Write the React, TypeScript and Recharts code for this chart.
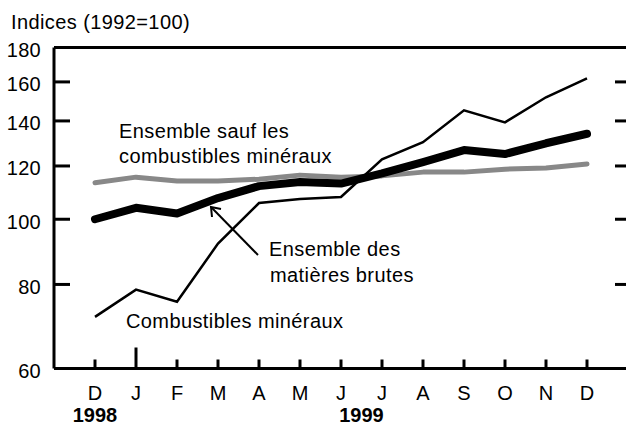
import React from 'react';
import { LineChart, Line, XAxis, YAxis, ReferenceLine, Customized } from 'recharts';

const months = ['D', 'J', 'F', 'M', 'A', 'M', 'J', 'J', 'A', 'S', 'O', 'N', 'D'];
const yearLabels = [
  { at: 0, label: '1998' },
  { at: 6.5, label: '1999' },
];
const ensembleMatieres = [100, 104, 102, 107.5, 112, 113.6, 113, 117, 121.6, 126.7, 125, 129.7, 134];
const saufCombustibles = [113.3, 115.5, 114, 114, 114.7, 116.3, 115.5, 116, 117.5, 117.5, 118.7, 119.2, 120.8];
const combustibles = [71.6, 78.6, 75.4, 92, 105.7, 107.2, 107.9, 122.8, 130.2, 145.2, 139.3, 151.8, 162];
const yTicks = [60, 80, 100, 120, 140, 160, 180];

const data = months.map((m, i) => ({
  idx: i,
  month: m,
  ensemble: ensembleMatieres[i],
  sauf: saufCombustibles[i],
  comb: combustibles[i],
}));

const W = 626;
const H = 427;
const M_LEFT = 54;
const M_TOP = 47.5;
const M_RIGHT = -2;
const X_AXIS_H = 30;
const M_BOTTOM = H - 368.5 - X_AXIS_H;
const PLOT_LEFT = M_LEFT;
const PLOT_RIGHT = W - M_RIGHT;
const PLOT_BOTTOM = H - M_BOTTOM - X_AXIS_H;
const STEP = (PLOT_RIGHT - PLOT_LEFT) / 14;
const FONT = '"Liberation Sans", Arial, sans-serif';
const FS = 20;
const LS = 0.4;

const XTick = (props: any) => {
  const { x, payload } = props;
  const v = payload.value;
  const len = v === 1 ? 21 : 9;
  const years = yearLabels.filter((y) => Math.floor(y.at) === v);
  return (
    <g>
      <line x1={x} x2={x} y1={PLOT_BOTTOM} y2={PLOT_BOTTOM - len} stroke="#000" strokeWidth={3} />
      <text x={x} y={400} textAnchor="middle" fontFamily={FONT} fontSize={FS} fill="#000">
        {months[v]}
      </text>
      {years.map((y) => (
        <text
          key={y.label}
          x={x + (y.at - v) * STEP}
          y={422}
          textAnchor="middle"
          fontFamily={FONT}
          fontSize={FS}
          fontWeight="bold"
          fill="#000"
        >
          {y.label}
        </text>
      ))}
    </g>
  );
};

const YTick = (props: any) => {
  const { y, payload } = props;
  const v = payload.value;
  const inner = v !== 60 && v !== 180;
  return (
    <g>
      {inner && (
        <line x1={PLOT_LEFT} x2={PLOT_LEFT + 16} y1={y} y2={y} stroke="#000" strokeWidth={3} />
      )}
      {inner && (
        <line x1={PLOT_RIGHT - 13} x2={PLOT_RIGHT} y1={y} y2={y} stroke="#000" strokeWidth={3} />
      )}
      <text x={41} y={y + 9.3} textAnchor="end" fontFamily={FONT} fontSize={FS} letterSpacing={0.3} fill="#000">
        {v}
      </text>
    </g>
  );
};

const Annotations = () => (
  <g fontFamily={FONT} fontSize={FS} fill="#000" letterSpacing={LS}>
    <text x={11} y={29.3}>Indices (1992=100)</text>
    <text x={119} y={138}>Ensemble sauf les</text>
    <text x={119} y={163}>combustibles minéraux</text>
    <text x={269} y={256}>Ensemble des</text>
    <text x={270} y={282}>matières brutes</text>
    <text x={126} y={328}>Combustibles minéraux</text>
    <line x1={258} y1={255} x2={212} y2={208} stroke="#000" strokeWidth={2} />
    <polyline points="212,217 211,207 221,209" fill="none" stroke="#000" strokeWidth={2} />
  </g>
);

export default function App() {
  return (
    <div style={{ position: 'absolute', left: 0, top: 0, width: W, height: H, background: '#fff' }}>
      <LineChart
        width={W}
        height={H}
        data={data}
        margin={{ top: M_TOP, right: M_RIGHT, bottom: M_BOTTOM, left: 0 }}
      >
        <XAxis
          dataKey="idx"
          type="number"
          domain={[-1, 13]}
          ticks={data.map((d) => d.idx)}
          interval={0}
          height={X_AXIS_H}
          axisLine={{ stroke: '#000', strokeWidth: 3 }}
          tickLine={false}
          tick={<XTick />}
          allowDataOverflow
        />
        <YAxis
          type="number"
          scale="log"
          domain={[60, 180]}
          ticks={yTicks}
          interval={0}
          width={M_LEFT}
          axisLine={{ stroke: '#000', strokeWidth: 3 }}
          tickLine={false}
          tick={<YTick />}
          allowDataOverflow
        />
        <ReferenceLine y={180} stroke="#000" strokeWidth={3} />
        <Line
          dataKey="sauf"
          stroke="#888888"
          strokeWidth={5}
          dot={false}
          activeDot={false}
          strokeLinecap="round"
          strokeLinejoin="round"
          isAnimationActive={false}
        />
        <Line
          dataKey="ensemble"
          stroke="#000"
          strokeWidth={8}
          dot={false}
          activeDot={false}
          strokeLinecap="round"
          strokeLinejoin="round"
          isAnimationActive={false}
        />
        <Line
          dataKey="comb"
          stroke="#000"
          strokeWidth={2.5}
          dot={false}
          activeDot={false}
          isAnimationActive={false}
        />
        <Customized component={<Annotations />} />
      </LineChart>
    </div>
  );
}
